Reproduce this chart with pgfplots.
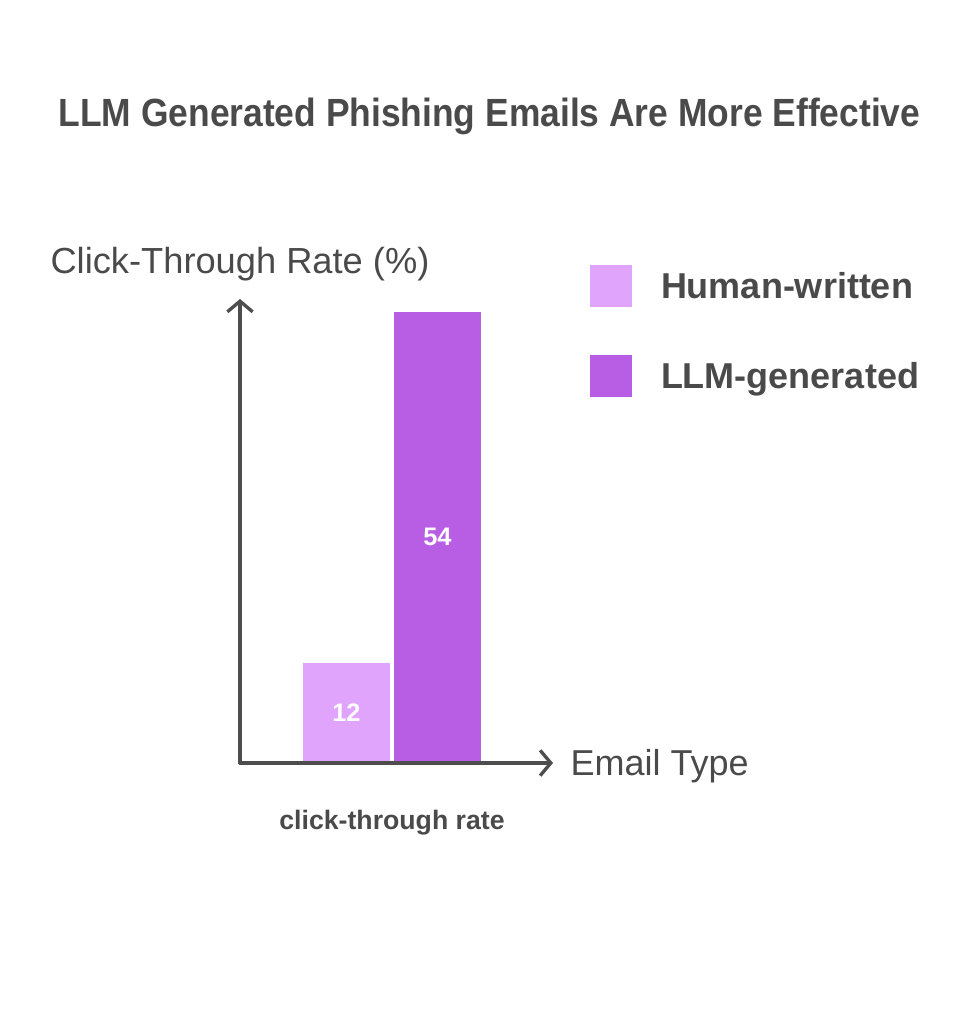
\documentclass[border=0pt]{standalone}
\usepackage{pgfplots}
\pgfplotsset{compat=1.18}
\usepackage{fontspec}
\setmainfont{Liberation Sans}
\newfontfamily\titlefont[FakeStretch=0.9]{Liberation Sans}
\usetikzlibrary{arrows.meta}
\definecolor{txt}{HTML}{4A4A4A}
\definecolor{axc}{HTML}{4D4D4D}
\definecolor{human}{HTML}{E0A4FD}
\definecolor{llm}{HTML}{B85EE4}
\begin{document}
\begin{tikzpicture}
\useasboundingbox (0,0) rectangle (730.5pt,768pt);
\begin{axis}[
  at={(180pt,195.75pt)}, anchor=south west,
  scale only axis, width=234.75pt, height=348pt,
  ybar, bar width=0.87,
  xmin=-1.52, xmax=1.61, ymin=0, ymax=55.5,
  axis lines=left,
  axis line style={draw=axc, line width=2.5pt, line cap=round, line join=round, -{Straight Barb[length=8pt,width=19pt]}},
  axis on top,
  /pgf/number format/assume math mode=true,
  xtick={0}, xticklabels={click-through rate},
  ytick=\empty,
  major tick length=0pt,
  xticklabel style={font=\fontsize{20}{24}\selectfont\bfseries, text=txt, anchor=base, yshift=-50.25pt},
  every axis title shift=0pt,
  title={LLM Generated Phishing Emails Are More Effective},
  title style={at={(axis description cs:0.797,1.3728)}, anchor=base, font=\titlefont\fontsize{29.5}{35}\selectfont\bfseries, text=txt},
  ylabel={Click-Through Rate (\%)},
  ylabel style={at={(axis description cs:0,1.056)}, rotate=-90, anchor=base, font=\fontsize{27.2}{32}\selectfont, text=txt},
  xlabel={Email Type},
  xlabel style={at={(axis description cs:1.0415,-0.026)}, anchor=base west, font=\fontsize{27}{32}\selectfont, text=txt},
  legend image code/.code={\fill[#1] (0pt,-6.5pt) rectangle (31.5pt,25pt);},
  legend style={at={(axis description cs:1.1182,1.0733)}, anchor=north west, draw=none, fill=none, inner sep=0pt, outer sep=0pt, row sep=36pt, column sep=21.75pt, font=\fontsize{27}{32}\selectfont\bfseries, nodes={inner sep=0pt, text=txt}, cells={anchor=base west}},
  visualization depends on={y \as \rawy},
  nodes near coords,
  every node near coord/.append style={anchor=center, shift={(axis direction cs:0,-\rawy/2)}, font=\fontsize{19}{22}\selectfont\bfseries, text=white},
]
\addplot[fill=human, draw=none, bar shift=-0.455] coordinates {(0,12)};
\addplot[fill=llm, draw=none, bar shift=0.455] coordinates {(0,54)};
\legend{Human-written, LLM-generated}
\end{axis}
\end{tikzpicture}
\end{document}
